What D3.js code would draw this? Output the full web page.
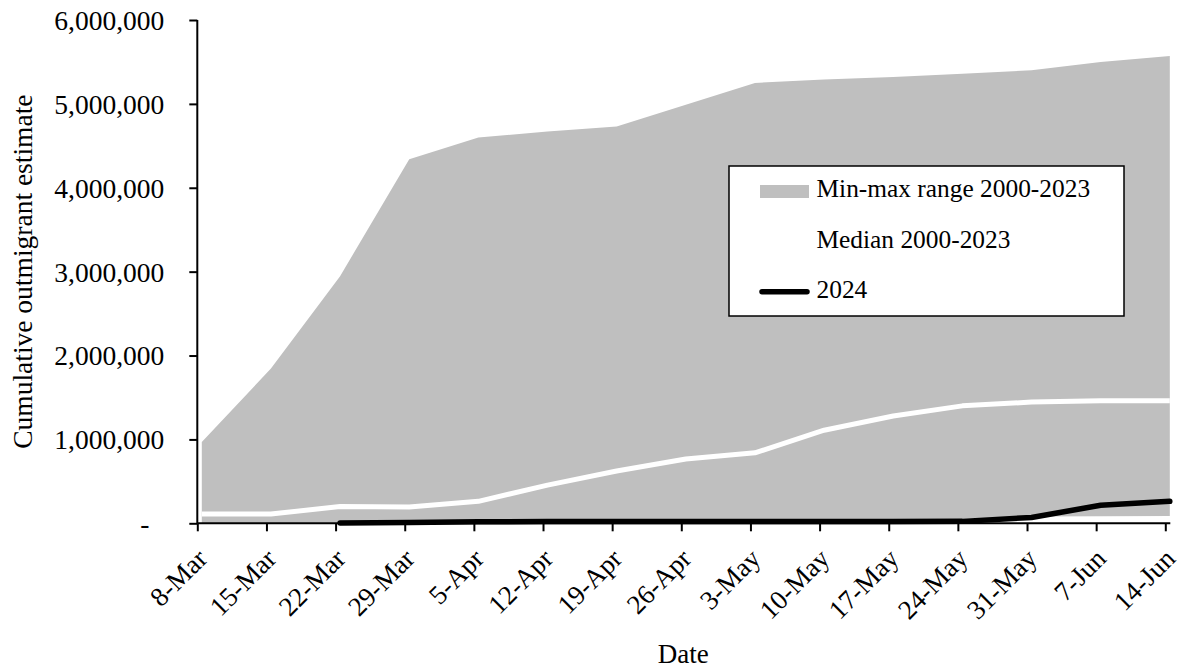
<!DOCTYPE html>
<html>
<head>
<meta charset="utf-8">
<script src="https://cdn.jsdelivr.net/npm/d3@7"></script>
<style>
  html, body { margin: 0; padding: 0; background: #fff; }
  svg { display: block; font-family: "Liberation Serif", "Times New Roman", serif; }
</style>
</head>
<body>
<svg id="chart" width="1182" height="670"></svg>
<script>
// Weekly dates (category axis)
const dates = ["8-Mar", "15-Mar", "22-Mar", "29-Mar", "5-Apr", "12-Apr", "19-Apr", "26-Apr",
               "3-May", "10-May", "17-May", "24-May", "31-May", "7-Jun", "14-Jun"];

// Historical range 2000-2023 (cumulative outmigrants)
const minValues = [5000, 5000, 8000, 10000, 15000, 18000, 20000, 25000,
                   30000, 35000, 40000, 50000, 80000, 85000, 88000];
const maxValues = [970000, 1845000, 2946000, 4340000, 4600000, 4670000, 4730000, 4990000,
                   5250000, 5290000, 5320000, 5360000, 5400000, 5500000, 5570000];

// Median 2000-2023
const medianValues = [110000, 110000, 200000, 195000, 262000, 455000, 624000, 766000,
                      840000, 1110000, 1280000, 1400000, 1445000, 1460000, 1462000];

// 2024 season (no estimate before 22-Mar)
const values2024 = [null, null, 3000, 10000, 18000, 20000, 21000, 22000,
                    22000, 22000, 22000, 23000, 70000, 215000, 262000];

const yTickValues = [0, 1000000, 2000000, 3000000, 4000000, 5000000, 6000000];

const legendLabels = ["Min-max range 2000-2023", "Median 2000-2023", "2024"];

const svg = d3.select("#chart");

const plot = { left: 197.3, right: 1165.3, top: 20, bottom: 523.3 };

const x = d3.scalePoint().domain(dates).range([plot.left, plot.right]);
const y = d3.scaleLinear().domain([0, 6000000]).range([plot.bottom, plot.top]);

const grey = "#BFBFBF";

// Series layer sits slightly right of the tick positions
const series = svg.append("g").attr("transform", "translate(4.5,0)");

const rows = dates.map((d, i) => ({
  d, min: minValues[i], max: maxValues[i], med: medianValues[i], v: values2024[i]
}));

series.append("path")
  .datum(rows)
  .attr("fill", grey)
  .attr("d", d3.area().x(r => x(r.d)).y0(r => y(r.min)).y1(r => y(r.max)));

series.append("path")
  .datum(rows)
  .attr("fill", "none")
  .attr("stroke", "#fff")
  .attr("stroke-width", 5)
  .attr("stroke-linejoin", "round")
  .attr("d", d3.line().x(r => x(r.d)).y(r => y(r.med)));

series.append("path")
  .datum(rows)
  .attr("fill", "none")
  .attr("stroke", "#000")
  .attr("stroke-width", 5.5)
  .attr("stroke-linejoin", "round")
  .attr("stroke-linecap", "round")
  .attr("d", d3.line().defined(r => r.v != null).x(r => x(r.d)).y(r => y(r.v)));

// Y axis
const fmt = d3.format(",");
const yAxis = svg.append("g")
  .attr("transform", `translate(${plot.left},0)`)
  .call(d3.axisLeft(y).tickValues(yTickValues).tickSize(8).tickPadding(25)
        .tickFormat(v => v === 0 ? "-" : fmt(v)));
yAxis.select(".domain").attr("stroke", "#000").attr("stroke-width", 2).attr("d", `M0,${plot.top}V${plot.bottom}`);
yAxis.selectAll(".tick line").attr("stroke", "#000").attr("stroke-width", 2);
yAxis.selectAll(".tick text")
  .attr("font-size", 27.5)
  .attr("font-family", "Liberation Serif, Times New Roman, serif")
  .attr("fill", "#000")
  .attr("dy", "0.34em")
  .filter(v => v === 0).attr("dx", -15);

// X axis
const xAxis = svg.append("g")
  .attr("transform", `translate(0,${plot.bottom})`)
  .call(d3.axisBottom(x).tickSize(8).tickSizeOuter(0));
xAxis.select(".domain").attr("stroke", "#000").attr("stroke-width", 2)
  .attr("d", `M${plot.left},0H${plot.right + 5}`);
xAxis.selectAll(".tick line").attr("stroke", "#000").attr("stroke-width", 2);
xAxis.selectAll(".tick text")
  .attr("font-size", 27)
  .attr("font-family", "Liberation Serif, Times New Roman, serif")
  .attr("fill", "#000")
  .attr("text-anchor", "end")
  .attr("y", 0).attr("dy", 0)
  .attr("transform", "translate(11,37) rotate(-45)");

// Axis titles
svg.append("text")
  .attr("x", (plot.left + plot.right) / 2 + 2)
  .attr("y", 663)
  .attr("text-anchor", "middle")
  .attr("font-size", 27)
  .text("Date");

svg.append("text")
  .attr("transform", `translate(32,${(plot.top + plot.bottom) / 2}) rotate(-90)`)
  .attr("text-anchor", "middle")
  .attr("font-size", 27.5)
  .text("Cumulative outmigrant estimate");

// Legend
const legend = svg.append("g");
legend.append("rect")
  .attr("x", 729).attr("y", 166).attr("width", 395).attr("height", 150)
  .attr("fill", "#fff").attr("stroke", "#000").attr("stroke-width", 1.5);

legend.append("rect")
  .attr("x", 760).attr("y", 185).attr("width", 49).attr("height", 13)
  .attr("fill", grey);
legend.append("line")
  .attr("x1", 760).attr("x2", 809).attr("y1", 241).attr("y2", 241)
  .attr("stroke", "#fff").attr("stroke-width", 5);
legend.append("line")
  .attr("x1", 762).attr("x2", 807).attr("y1", 291.7).attr("y2", 291.7)
  .attr("stroke", "#000").attr("stroke-width", 5.5).attr("stroke-linecap", "round");

const legendBaselines = [196.7, 248.3, 298.3];
legend.selectAll("text.lbl")
  .data(legendLabels)
  .enter().append("text")
  .attr("class", "lbl")
  .attr("x", 816.5)
  .attr("y", (d, i) => legendBaselines[i])
  .attr("font-size", 25.4)
  .text(d => d);
</script>
</body>
</html>
